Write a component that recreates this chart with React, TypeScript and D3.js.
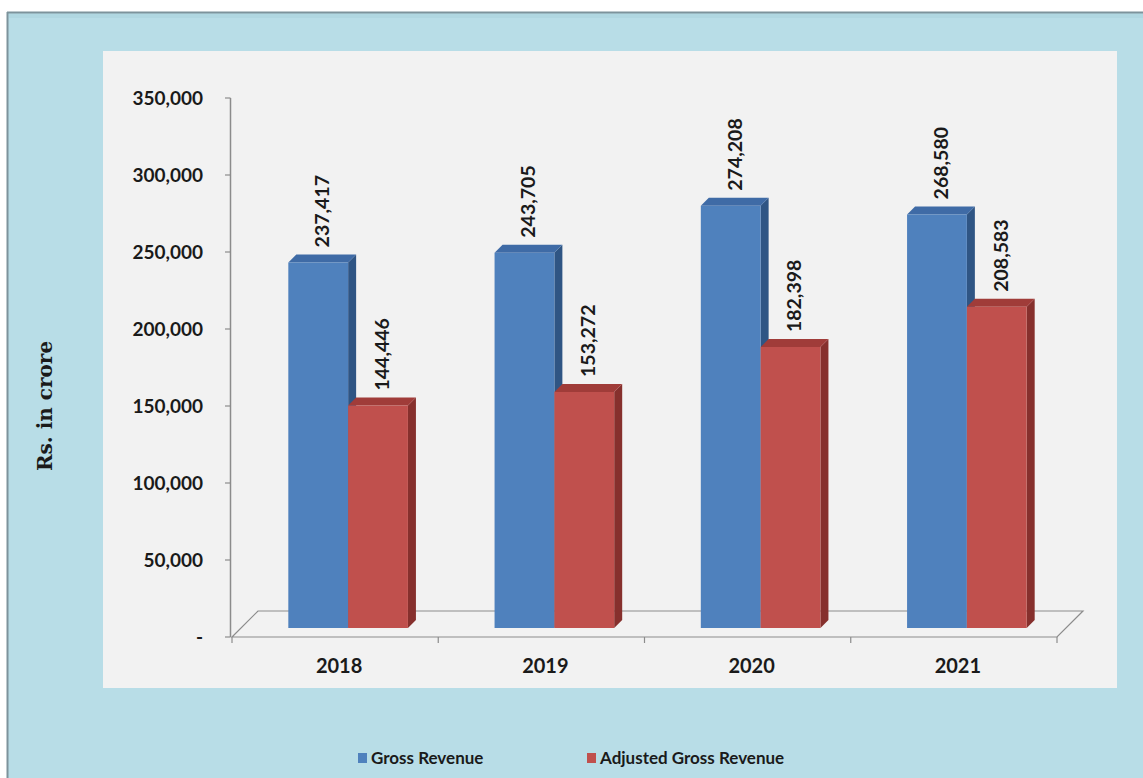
import React from "react";
import * as d3 from "d3";

const years = ["2018", "2019", "2020", "2021"];
const seriesNames = ["Gross Revenue", "Adjusted Gross Revenue"];
const grossRevenue = [237417, 243705, 274208, 268580];
const adjustedGrossRevenue = [144446, 153272, 182398, 208583];
const yTicks = [0, 50000, 100000, 150000, 200000, 250000, 300000, 350000];

const W = 1143;
const H = 778;

const palette = [
  { front: "#4f81bd", top: "#3f6ba6", side: "#2f5584" },
  { front: "#c0504d", top: "#a03c39", side: "#86302d" },
];

export default function App() {
  const axisLeft = 232;
  const axisRight = 1057;
  const y = d3.scaleLinear().domain([0, 350000]).range([637, 98]);
  const x = d3.scaleBand().domain(years).range([axisLeft, axisRight]).padding(0);
  const bw = x.bandwidth();
  const barW = bw * 0.29;
  const groupOffset = bw / 2 + 13 - barW;
  const s = d3.scaleBand().domain(seriesNames).range([0, barW * 2]).padding(0);
  const depthX = 8;
  const depthY = -8;
  const floorShift = 9;
  const yBar = (v: number) => y(v) - floorShift;
  const fmt = (v: number) => (v === 0 ? "-" : d3.format(",")(v));
  const sans = "Lato, 'Open Sans', sans-serif";

  const data = years.map((yr, i) => ({
    year: yr,
    values: [grossRevenue[i], adjustedGrossRevenue[i]],
  }));

  const floorBackDX = 26;
  const floorBackDY = -26;

  return (
    <svg width={W} height={H} style={{ position: "absolute", left: 0, top: 0 }}>
      <rect x={0} y={0} width={W} height={H} fill="#ffffff" />
      {/* outer frame */}
      <rect x={7} y={12} width={W - 7} height={H - 12} fill="#b8dde7" />
      <line x1={7} y1={12.5} x2={W} y2={12.5} stroke="#7d939c" strokeWidth={2} />
      <line x1={7.5} y1={12} x2={7.5} y2={H} stroke="#7d939c" strokeWidth={2} />
      <rect x={9} y={14} width={W - 9} height={4} fill="#aad4de" opacity={0.6} />
      {/* inner plot area */}
      <rect x={103} y={51} width={1014} height={637} fill="#f2f2f2" />

      {/* floor */}
      <polygon
        points={[
          [axisLeft, y(0)],
          [axisLeft + floorBackDX, y(0) + floorBackDY],
          [axisRight + floorBackDX, y(0) + floorBackDY],
          [axisRight, y(0)],
        ]
          .map((p) => p.join(","))
          .join(" ")}
        fill="none"
        stroke="#8c8c8c"
        strokeWidth={1.2}
      />
      {/* y axis */}
      <line x1={axisLeft - 1.5} y1={y(350000)} x2={axisLeft - 1.5} y2={y(0)} stroke="#8c8c8c" strokeWidth={1.5} />
      {yTicks.map((t) => (
        <g key={t}>
          <line x1={axisLeft - 7} x2={axisLeft - 1.5} y1={y(t)} y2={y(t)} stroke="#8c8c8c" strokeWidth={1.2} />
          <text
            x={203}
            y={y(t)}
            dy="0.35em"
            textAnchor="end"
            fontFamily={sans}
            fontWeight="bold"
            fontSize={19}
            fill="#1a1a1a"
          >
            {fmt(t)}
          </text>
        </g>
      ))}
      {/* x ticks */}
      {years.map((yr) => (
        <line key={yr} x1={x(yr)!} x2={x(yr)!} y1={y(0)} y2={y(0) + 6} stroke="#8c8c8c" strokeWidth={1.2} />
      ))}
      <line x1={axisRight} x2={axisRight} y1={y(0)} y2={y(0) + 6} stroke="#8c8c8c" strokeWidth={1.2} />
      {years.map((yr) => (
        <text
          key={yr}
          x={x(yr)! + bw / 2 + 4}
          y={673}
          textAnchor="middle"
          fontFamily={sans}
          fontWeight="bold"
          fontSize={20}
          fill="#1a1a1a"
        >
          {yr}
        </text>
      ))}

      {/* bars */}
      {data.map((d) =>
        d.values.map((v, si) => {
          const x0 = x(d.year)! + groupOffset + s(seriesNames[si])!;
          const x1 = x0 + barW;
          const yt = yBar(v);
          const yb = yBar(0);
          const c = palette[si];
          const front = `M${x0},${yt}L${x1},${yt}L${x1},${yb}L${x0},${yb}Z`;
          const top = `M${x0},${yt}L${x0 + depthX},${yt + depthY}L${x1 + depthX},${yt + depthY}L${x1},${yt}Z`;
          const side = `M${x1},${yt}L${x1 + depthX},${yt + depthY}L${x1 + depthX},${yb + depthY}L${x1},${yb}Z`;
          return (
            <g key={d.year + si}>
              <path d={side} fill={c.side} />
              <path d={top} fill={c.top} />
              <path d={front} fill={c.front} />
              <text
                transform={`translate(${x0 + barW / 2 + depthX / 2},${yt + depthY - 7}) rotate(-90)`}
                dy="0.35em"
                textAnchor="start"
                fontFamily={sans}
                fontWeight="bold"
                fontSize={19.5}
                fill="#1a1a1a"
              >
                {d3.format(",")(v)}
              </text>
            </g>
          );
        })
      )}

      {/* y title */}
      <text
        transform={`translate(45,406) rotate(-90)`}
        textAnchor="middle"
        dy="0.35em"
        fontFamily="'DejaVu Serif', 'Liberation Serif', serif"
        fontWeight="bold"
        fontSize={20}
        fill="#1a1a1a"
      >
        Rs. in crore
      </text>

      {/* legend */}
      {seriesNames.map((n, i) => {
        const lx = i === 0 ? 358 : 587;
        return (
          <g key={n}>
            <rect x={lx} y={753} width={9} height={10} fill={palette[i].front} />
            <text x={lx + 13} y={764} fontFamily={sans} fontWeight="bold" fontSize={17} fill="#1a1a1a">
              {n}
            </text>
          </g>
        );
      })}
    </svg>
  );
}
